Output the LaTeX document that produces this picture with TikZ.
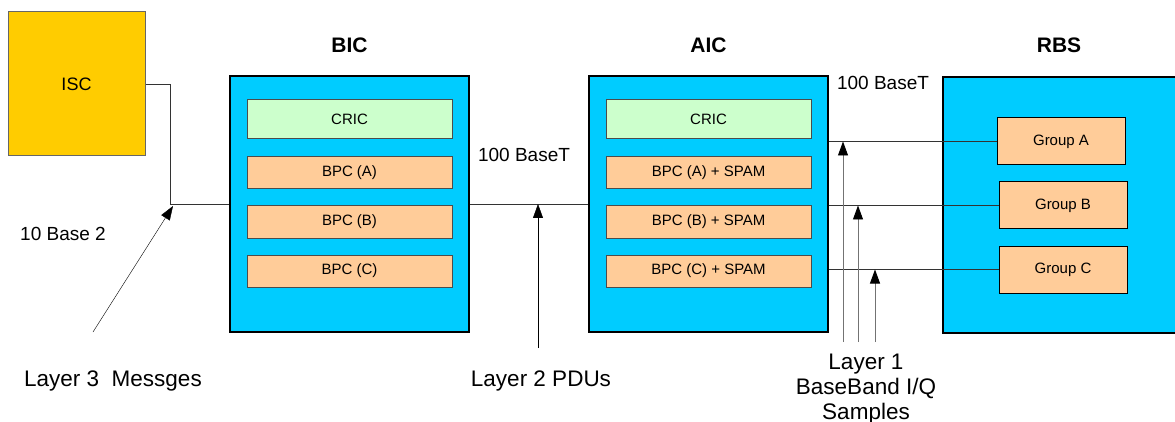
\documentclass[tikz,border=0pt]{standalone}
\usepackage{fontspec}
\setmainfont{Liberation Sans}
\usepackage{tikz}
\usetikzlibrary{positioning,arrows.meta}
\definecolor{iscyellow}{RGB}{255,204,0}
\definecolor{cardblue}{RGB}{0,204,255}
\definecolor{cricgreen}{RGB}{204,255,204}
\definecolor{bpcorange}{RGB}{255,204,153}

\begin{document}
\begin{tikzpicture}[x=1pt, y=-1pt, node distance=16pt, >={Triangle[length=14pt,width=10pt,black]},
    	thin, box node/.style={rectangle, draw=black!70, line width=1pt, inner sep=0pt, font=\fontsize{15}{18}\selectfont},
    	isc node/.style={box node, fill=iscyellow, draw=black!60, minimum width=137pt, minimum height=144pt, font=\fontsize{18}{21}\selectfont},
    	card node/.style={box node, fill=cardblue, draw=black, line width=1.3pt, minimum width=239pt, minimum height=256pt},
    	cric node/.style={box node, fill=cricgreen, minimum width=205pt, minimum height=39pt},
    	bpc node/.style={box node, fill=bpcorange, minimum width=205pt, minimum height=32pt},
    	group node/.style={box node, fill=bpcorange, draw=black, minimum width=128pt, minimum height=47pt},
    	title/.style={font=\fontsize{21}{24}\selectfont\bfseries},
    	note/.style={font=\fontsize{19}{25}\selectfont, align=center, inner sep=0pt},
    	layer note/.style={note, font=\fontsize{22.5}{25}\selectfont}]
    	
    	\clip (0,0) rectangle (1175,422);
    	
    	\node[isc node] (isc) at (76.5,84) {ISC};
    	
    	\node[card node] (bic) at (349.5,204) {};
    	\node[title] at (349.5,45) {BIC};
    	\node[cric node] (biccric) at (349.5,119.5) {CRIC};
    	\node[bpc node] (bica) [below=17pt of biccric] {BPC (A)};
    	\node[bpc node] (bicb) [below=of bica] {BPC (B)};
    	\node[bpc node] (bicc) [below=of bicb] {BPC (C)};
    	
    	\node[card node] (aic) at (708.5,204) {};
    	\node[title] at (708.5,45) {AIC};
    	\node[cric node] (aiccric) at (708.5,119.5) {CRIC};
    	\node[bpc node] (aica) [below=17pt of aiccric] {BPC (A) + SPAM};
    	\node[bpc node] (aicb) [below=of aica] {BPC (B) + SPAM};
    	\node[bpc node] (aicc) [below=of aicb] {BPC (C) + SPAM};
    	
    	\node[card node] (rbs) at (1062.5,205) {};
    	\node[title] at (1059,45) {RBS};
    	\node[group node] (grpa) at (1061,141.5) {Group A};
    	\node[group node] (grpb) at (1063,205.5) {Group B};
    	\node[group node] (grpc) at (1063,269.5) {Group C};
    	
    	% links
    	\coordinate (tap) at (170,204);
    	\draw[black!80] (isc.east) -| (tap) -- (bic.west);
    	\draw[black!80] (bic.east) -- (aic.west);
    	\draw[black!80] (aic.east |- grpa.west) -- (grpa.west);
    	\draw[black!80] (aic.east |- grpb.west) -- (grpb.west);
    	\draw[black!80] (aic.east |- grpc.west) -- (grpc.west);
    	
    	\node[note] (base2) at (63,234) {10 Base 2};
    	\node[note] (lan) at (524,155) {100 BaseT};
    	\node[note] (rlan) at (883,83) {100 BaseT};
    	\node[layer note] (l3) at (113,381) {Layer 3\ \ Messges};
    	\node[layer note] (l2) at (541,381) {Layer 2 PDUs};
    	\node[layer note] (l1) at (866,389) {Layer 1\\BaseBand I/Q\\Samples};
    	
    	% signal arrows
    	\coordinate (l3foot) at (93,332);
    	\coordinate (l3tip) at (173,206);
    	\coordinate (l2foot) at (538,348);
    	\draw[->] (l3foot) -- (l3tip);
    	\draw[->] (l2foot) -- (l2foot |- tap);
    	\foreach \name/\x in {grpa/843, grpb/858, grpc/875}{
    	  \coordinate (foot) at (\x,342);
    	  \draw[->, black!55, line width=0.9pt] (foot) -- (foot |- \name.west);
    	}
\end{tikzpicture}
\end{document}
